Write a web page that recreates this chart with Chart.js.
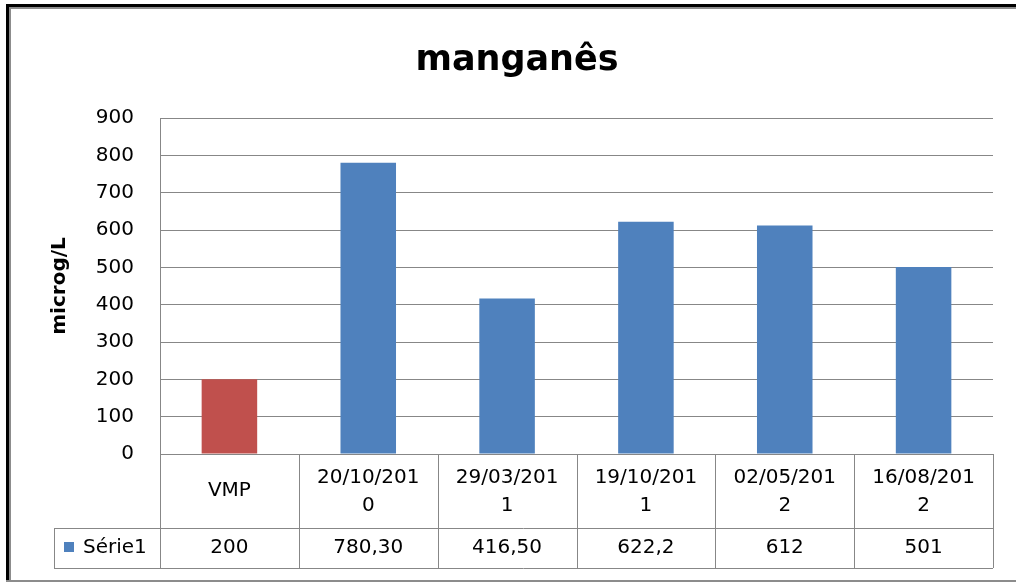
<!DOCTYPE html>
<html>
<head>
<meta charset="utf-8">
<script src="https://cdn.jsdelivr.net/npm/chart.js@4"></script>
<style>
  html, body { margin: 0; padding: 0; background: #fff; }
  #wrap { width: 1016px; height: 583px; }
</style>
</head>
<body>
<div id="wrap"><canvas id="myChart"></canvas></div>
<script>
// DATOS
const categories = ['VMP', '20/10/2010', '29/03/2011', '19/10/2011', '02/05/2012', '16/08/2012'];
const values = [200, 780.3, 416.5, 622.2, 612, 501];
const valueLabels = ['200', '780,30', '416,50', '622,2', '612', '501'];
const barColors = ['#C0504D', '#4F81BD', '#4F81BD', '#4F81BD', '#4F81BD', '#4F81BD'];
const yTicks = [0, 100, 200, 300, 400, 500, 600, 700, 800, 900];
const seriesName = 'Série1';

const FONT = "'DejaVu Sans', sans-serif";
const GRAY = '#878787';

// Excel corta la etiqueta a 9 caracteres
const wrapLabel = (label) => label.length > 9 ? [label.slice(0, 9), label.slice(9)] : [label];

// borde exterior del grafico
const frame = {
    id: 'frame',
    afterDraw(chart) {
        const ctx = chart.ctx;
        ctx.save();
        ctx.fillStyle = '#000';
        ctx.fillRect(6, 4, 1010, 3);
        ctx.fillRect(6, 4, 3, 578);
        ctx.fillStyle = '#8c8c8c';
        ctx.fillRect(9, 7, 1007, 2);
        ctx.fillRect(9, 7, 2, 573);
        ctx.fillRect(6, 580, 1010, 2);
        ctx.restore();
    }
};

// tabla de datos bajo el eje x
const dataTable = {
    id: 'dataTable',
    afterDraw(chart) {
        const { ctx, chartArea, scales } = chart;
        const left = chartArea.left;
        const right = chartArea.right;
        const top = chartArea.bottom;
        const row1 = top + 74;
        const row2 = row1 + 40;
        const legendLeft = 54;
        const step = (right - left) / categories.length;

        ctx.save();
        ctx.strokeStyle = GRAY;
        ctx.lineWidth = 1;
        ctx.beginPath();
        ctx.moveTo(left, top + 0.5); ctx.lineTo(right, top + 0.5);
        ctx.moveTo(legendLeft, row1 + 0.5); ctx.lineTo(right, row1 + 0.5);
        ctx.moveTo(legendLeft, row2 + 0.5); ctx.lineTo(right, row2 + 0.5);
        ctx.moveTo(legendLeft + 0.5, row1); ctx.lineTo(legendLeft + 0.5, row2);
        for (let i = 0; i <= categories.length; i++) {
            const xx = Math.round(left + i * step) + 0.5;
            ctx.moveTo(xx, top); ctx.lineTo(xx, row2);
        }
        ctx.stroke();

        ctx.fillStyle = '#000';
        ctx.font = `20px ${FONT}`;
        ctx.textAlign = 'center';
        ctx.textBaseline = 'middle';
        categories.forEach((cat, i) => {
            const cx = scales.x.getPixelForValue(i);
            const lines = wrapLabel(cat);
            if (lines.length === 1) {
                ctx.fillText(lines[0], cx, top + 37);
            } else {
                ctx.fillText(lines[0], cx, top + 24);
                ctx.fillText(lines[1], cx, top + 52);
            }
            ctx.fillText(valueLabels[i], cx, row1 + 20);
        });

        // leyenda
        ctx.fillStyle = '#4F81BD';
        ctx.fillRect(64, row1 + 14, 10, 10);
        ctx.fillStyle = '#000';
        ctx.textAlign = 'left';
        ctx.fillText(seriesName, 83, row1 + 20);
        ctx.restore();
    }
};

const ctx = document.querySelector('#myChart');
const chart = new Chart(ctx, {
    type: 'bar',
    data: {
        labels: categories,
        datasets: [
            {
                label: seriesName,
                data: values,
                backgroundColor: barColors,
                barPercentage: 0.4,
                categoryPercentage: 1,
            },
        ],
    },
    options: {
        responsive: true,
        maintainAspectRatio: false,
        animation: false,
        layout: { padding: { left: 18, right: 0, top: 0, bottom: 0 } },
        scales: {
            x: {
                ticks: { display: false },
                grid: { display: false },
                border: { display: false },
                afterFit: (s) => { s.height = 129; },
            },
            y: {
                min: 0,
                max: 900,
                afterBuildTicks: (s) => { s.ticks = yTicks.map(v => ({ value: v })); },
                ticks: {
                    color: '#000',
                    padding: 26,
                    font: { family: FONT, size: 20 },
                },
                grid: { color: GRAY, drawTicks: false },
                border: { color: GRAY },
                title: {
                    display: true,
                    text: 'microg/L',
                    color: '#000',
                    font: { family: FONT, size: 20, weight: 'bold' },
                    padding: { top: 30, bottom: 0 },
                },
                afterFit: (s) => { s.width = 142; },
            },
            // eje vacio a la derecha, solo para dejar el margen
            y2: {
                position: 'right',
                min: 0,
                max: 900,
                ticks: { display: false },
                grid: { display: false },
                border: { display: false },
                afterFit: (s) => { s.width = 23; },
            }
        },
        plugins: {
            legend: { display: false },
            tooltip: { enabled: false },
            title: {
                display: true,
                text: 'manganês',
                color: '#000',
                font: { family: FONT, size: 35, weight: 'bold' },
                padding: { top: 40, bottom: 36 },
            }
        }
    },
    plugins: [dataTable, frame]
});
</script>
</body>
</html>
